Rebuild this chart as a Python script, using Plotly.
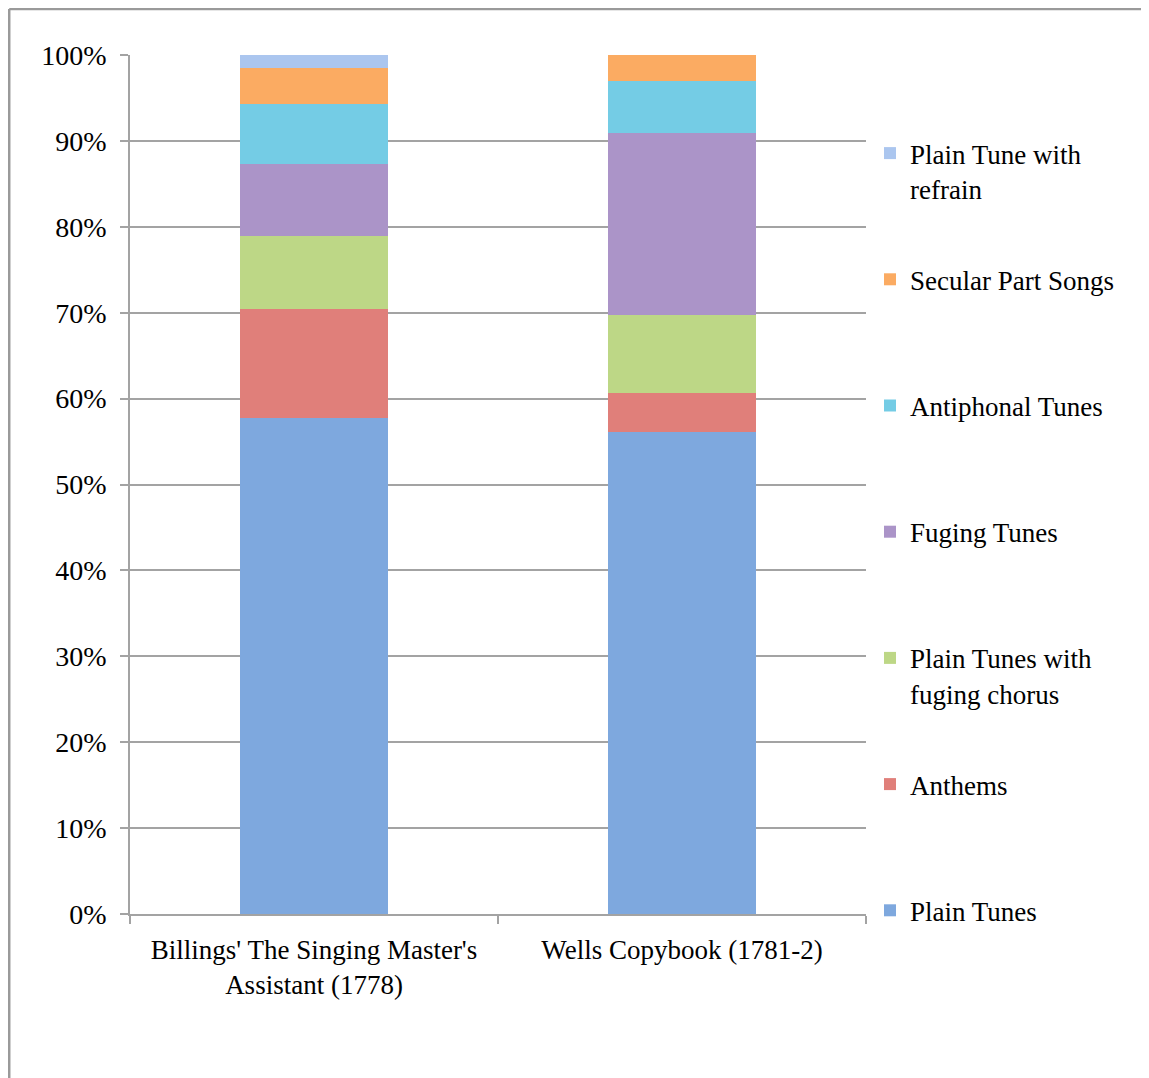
import plotly.graph_objects as go

categories = ["Billings' The Singing Master's<br>Assistant (1778)", "Wells Copybook (1781-2)"]

series_names = [
    "Plain Tunes",
    "Anthems",
    "Plain Tunes with<br>fuging chorus",
    "Fuging Tunes",
    "Antiphonal Tunes",
    "Secular Part Songs",
    "Plain Tune with<br>refrain",
]

plain_tunes = [57.7, 56.1]
anthems = [12.7, 4.5]
plain_fuging_chorus = [8.5, 9.1]
fuging_tunes = [8.4, 21.2]
antiphonal_tunes = [7.0, 6.1]
secular_part_songs = [4.2, 3.0]
plain_refrain = [1.5, 0.0]

series_values = [plain_tunes, anthems, plain_fuging_chorus, fuging_tunes,
                 antiphonal_tunes, secular_part_songs, plain_refrain]

colors = ["#7ea8de", "#e07f7a", "#bdd786", "#ab94c8", "#74cce5", "#fbab62", "#abc6ef"]

FONT = "Liberation Serif"

fig = go.Figure()
n = len(series_names)
for i, (name, vals, col) in enumerate(zip(series_names, series_values, colors)):
    label = name if "<br>" in name else name + "<br> "
    fig.add_trace(go.Bar(
        x=categories, y=vals, name=label, marker=dict(color=col, line=dict(width=0)),
        width=0.4, legendgroup="g%d" % i, legendrank=100 * (n - i),
    ))

fig.update_layout(
    barmode="stack",
    width=1141, height=1070,
    margin=dict(l=122, r=283, t=47, b=164),
    paper_bgcolor="white", plot_bgcolor="white",
    font=dict(family=FONT, size=27, color="#000000"),
    legend=dict(
        x=1.0054, xanchor="left", y=0.9138, yanchor="top",
        traceorder="grouped", valign="top",
        tracegroupgap=53, font=dict(family=FONT, size=27, color="#000000"),
        bgcolor="rgba(0,0,0,0)",
    ),
    showlegend=True,
)

fig.update_yaxes(
    range=[0, 100], tickvals=[0, 10, 20, 30, 40, 50, 60, 70, 80, 90, 100],
    ticktext=["0%", "10%", "20%", "30%", "40%", "50%", "60%", "70%", "80%", "90%", "100%"],
    showgrid=True, gridcolor="#a3a3a3", gridwidth=1.5,
    showline=True, linecolor="#a3a3a3", linewidth=1.5,
    ticks="outside", ticklen=8, tickcolor="#a3a3a3", tickwidth=1.5,
    ticklabelstandoff=8, zeroline=False,
    tickfont=dict(family=FONT, size=28, color="#000000"),
)
fig.update_xaxes(
    showline=True, linecolor="#a3a3a3", linewidth=1.5,
    ticks="outside", ticklen=8, tickcolor="#a3a3a3", tickwidth=1.5,
    tickson="boundaries", ticklabelstandoff=11,
    tickfont=dict(family=FONT, size=27, color="#000000"),
)

# outer chart frame
fig.add_shape(type="line", xref="paper", yref="paper",
              x0=-0.1641, x1=-0.1641, y0=-0.25, y1=1.0536,
              line=dict(color="#9a9a9a", width=2.5))
fig.add_shape(type="line", xref="paper", yref="paper",
              x0=-0.1641, x1=1.45, y0=1.0536, y1=1.0536,
              line=dict(color="#9a9a9a", width=2.5))

fig.write_html("out.html")
